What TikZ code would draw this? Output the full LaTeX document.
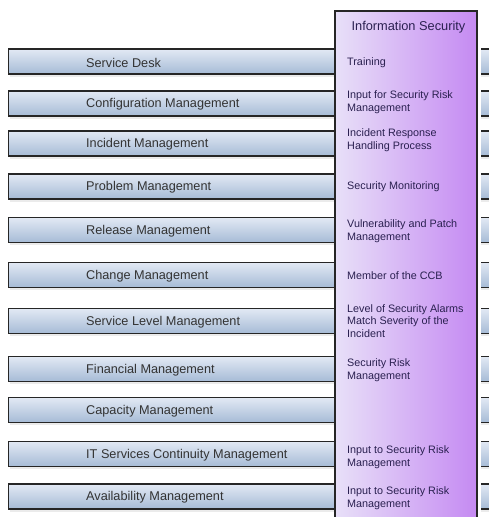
\documentclass[tikz,border=0pt]{standalone}
\usepackage{fontspec}
\setmainfont{Liberation Sans}
\begin{document}
\begin{tikzpicture}[x=1pt,y=-1pt,
  barbox/.style={draw=black!85,line width=1.2pt,top color=bartop,bottom color=barbot,
    minimum width=#1,minimum height=25pt,inner sep=0pt,anchor=west},
  barbox/.default=487pt,
  barlabel/.style={font=\fontsize{12.7}{15}\selectfont,text=black!80,anchor=west,inner sep=0pt,yshift=-1pt},
  seclabel/.style={font=\fontsize{10.8}{12.8}\selectfont,text=sectext,anchor=west,inner sep=0pt,align=left,yshift=-1pt},
]
\definecolor{bartop}{HTML}{E2E9F4}
\definecolor{barbot}{HTML}{A6BBD6}
\definecolor{secleft}{HTML}{E8E0F8}
\definecolor{secmid}{HTML}{D4AEF5}
\definecolor{secright}{HTML}{C58AF2}
\definecolor{sectext}{HTML}{2A2050}
\useasboundingbox (0,0) rectangle (488,517);
\fill[white] (0,0) rectangle (488,517);
% bars
\foreach \n/\y in {b1/61.5,b2/103.5,b3/143.5,b4/186.5,b5/230,b6/275,b7/321,b8/369,b9/410,b10/454,b11/496.5}{
  \fill[black!8] (10,\y-11) rectangle (498,\y+15);
  \node[barbox] (\n) at (8,\y) {};
}
\node[barlabel] (t1) at (86,61.5) {Service Desk};
\node[barlabel] (t2) at (86,103.5) {Configuration Management};
\node[barlabel] (t3) at (86,143.5) {Incident Management};
\node[barlabel] (t4) at (86,186.5) {Problem Management};
\node[barlabel] (t5) at (86,230) {Release Management};
\node[barlabel] (t6) at (86,275) {Change Management};
\node[barlabel] (t7) at (86,321) {Service Level Management};
\node[barlabel] (t8) at (86,369) {Financial Management};
\node[barlabel] (t9) at (86,410) {Capacity Management};
\node[barlabel] (t10) at (86,454) {IT Services Continuity Management};
\node[barlabel] (t11) at (86,496.5) {Availability Management};
% gap right of the box
\fill[white] (476,8) rectangle (481,520);
% information security column
\node[draw=black!85,line width=1.5pt,left color=secleft,middle color=secmid,right color=secright,
  minimum width=142pt,minimum height=520pt,anchor=north west,inner sep=0pt] (sec) at (334,10) {};
\node[font=\fontsize{12.8}{15}\selectfont,text=sectext,inner sep=0pt] (st) at (408.5,27) {Information Security};
\node[seclabel] (s1) at (347,62) {Training};
\node[seclabel] (s2) at (347,101) {Input for Security Risk\\Management};
\node[seclabel] (s3) at (347,139.5) {Incident Response\\Handling Process};
\node[seclabel] (s4) at (347,186) {Security Monitoring};
\node[seclabel] (s5) at (347,230.5) {Vulnerability and Patch\\Management};
\node[seclabel] (s6) at (347,275) {Member of the CCB};
\node[seclabel] (s7) at (347,320) {Level of Security Alarms\\Match Severity of the\\Incident};
\node[seclabel] (s8) at (347,369.5) {Security Risk\\Management};
\node[seclabel] (s9) at (347,456.5) {Input to Security Risk\\Management};
\node[seclabel] (s10) at (347,497.5) {Input to Security Risk\\Management};
\end{tikzpicture}
\end{document}
